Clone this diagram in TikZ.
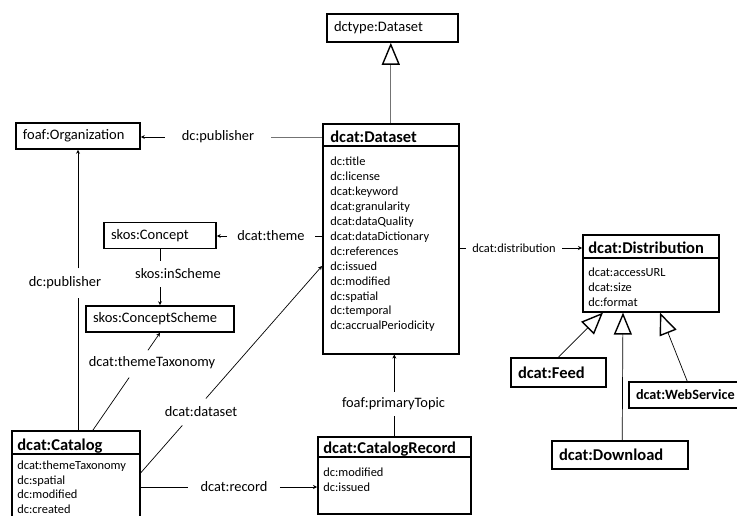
\documentclass[tikz,border=0pt]{standalone}
\usepackage{fontspec}
\setmainfont{Carlito}
\usetikzlibrary{calc,arrows.meta}

\begin{document}
\begin{tikzpicture}[x=1pt, y=-1pt, line width=0.7pt,
		box/.style={draw, line width=1.6pt, inner sep=0pt, anchor=north west},
		cls/.style={draw, line width=1.6pt, inner xsep=7pt, inner ysep=0pt, minimum height=26pt, align=left, font=\fontsize{14.5}{17}\selectfont},
		bcls/.style={cls, font=\fontsize{16.5}{19}\selectfont\bfseries},
		ttl/.style={anchor=base west, inner sep=0pt, font=\fontsize{16.5}{19}\selectfont\bfseries},
		attr/.style={anchor=north west, inner sep=0pt, align=left, font=\fontsize{12.4}{14.9}\selectfont},
		lbl/.style={inner xsep=8pt, inner ysep=8pt, font=\fontsize{14.4}{17}\selectfont},
		arr/.style={-{Stealth[length=4pt,width=4pt]}},
		gen/.style={-{Triangle[open,length=22pt,width=18pt,line width=1.4pt,color=black]}}]
		%%%%% START %%%%%
		
		\useasboundingbox (0,0) rectangle (737,516);
		
		% classes with attributes
		\node[box, minimum width=136pt, minimum height=230pt] (dataset) at (322,123) {};
		\draw[line width=1.2pt] ($(dataset.north west)+(0,23)$) -- ($(dataset.north east)+(0,23)$);
		\node[ttl] (datasetT) at (330,143) {dcat:Dataset};
		\node[attr] (datasetA) at (330,157) {dc:title\\dc:license\\dcat:keyword\\dcat:granularity\\dcat:dataQuality\\dcat:dataDictionary\\dc:references\\dc:issued\\dc:modified\\dc:spatial\\dc:temporal\\dc:accrualPeriodicity};
		
		\node[box, minimum width=128pt, minimum height=100pt] (catalog) at (11,430) {};
		\draw[line width=1.2pt] ($(catalog.north west)+(0,24)$) -- ($(catalog.north east)+(0,24)$);
		\node[ttl] (catalogT) at (17,450) {dcat:Catalog};
		\node[attr, font=\fontsize{12.4}{14.6}\selectfont] (catalogA) at (17,460.5) {dcat:themeTaxonomy\\dc:spatial\\dc:modified\\dc:created};
		
		\node[box, minimum width=153pt, minimum height=77pt] (record) at (317,436) {};
		\draw[line width=1.2pt] ($(record.north west)+(0,21)$) -- ($(record.north east)+(0,21)$);
		\node[ttl] (recordT) at (323,453) {dcat:CatalogRecord};
		\node[attr] (recordA) at (323,467.5) {dc:modified\\dc:issued};
		
		\node[box, minimum width=136pt, minimum height=77pt] (distribution) at (582,234) {};
		\draw[line width=1.2pt] ($(distribution.north west)+(0,24)$) -- ($(distribution.north east)+(0,24)$);
		\node[ttl] (distributionT) at (588,254) {dcat:Distribution};
		\node[attr] (distributionA) at (588,267.5) {dcat:accessURL\\dcat:size\\dc:format};
		
		% plain classes
		\node[cls, text width=117pt, minimum height=28pt] (dctype) at (392.5,28) {dctype:Dataset};
		\node[cls, text width=110pt] (org) at (78,136) {foaf:Organization};
		\node[cls, text width=98pt] (concept) at (160,235.5) {skos:Concept};
		\node[cls, text width=134pt] (scheme) at (160,319) {skos:ConceptScheme};
		\node[bcls, text width=81pt, minimum height=29pt] (feed) at (558.5,372.5) {dcat:Feed};
		\node[bcls, text width=122pt, minimum height=28pt] (download) at (620,455) {dcat:Download};
		\node[bcls, text width=132pt, font=\fontsize{14.2}{17}\selectfont\bfseries] (webservice) at (702,395) {dcat:WebService};
		
		% property labels
		\node[lbl, inner xsep=17pt] (pubA) at (218,137) {dc:publisher};
		\node[lbl, inner xsep=10pt] (thm) at (271,236) {dcat:theme};
		\node[lbl] (insch) at (178,274) {skos:inScheme};
		\node[lbl] (pubB) at (65,283) {dc:publisher};
		\node[lbl] (ttx) at (152,363) {dcat:themeTaxonomy};
		\node[lbl] (dsl) at (201,412) {dcat:dataset};
		\node[lbl, inner xsep=12pt] (rec) at (234,487) {dcat:record};
		\node[lbl, inner ysep=6pt] (ptl) at (393.5,404) {foaf:primaryTopic};
		\node[lbl, inner xsep=6pt, font=\fontsize{12.4}{14.9}\selectfont] (distl) at (514,248) {dcat:distribution};
		
		% properties
		\draw[black!55, line width=0.8pt] (dataset.west |- pubA) -- (pubA.east);
		\draw[arr] (pubA.west) -- (org.east |- pubA);
		\draw (dataset.west |- thm) -- (thm.east);
		\draw[arr] (thm.west) -- (concept.east |- thm);
		\draw (concept.south) -- (concept.south |- insch.north);
		\draw[arr] (concept.south |- insch.south) -- (scheme.north);
		\draw (catalog.north -| org.south) -- (pubB.south -| org.south);
		\draw[arr] (pubB.north -| org.south) -- (org.south);
		
		\coordinate (ttA) at ($(catalog.north west)+(82,0)$);
		\draw (ttA) -- ($(ttA)!0.54!(scheme.south)$);
		\draw[arr] ($(ttA)!0.82!(scheme.south)$) -- (scheme.south);
		
		\coordinate (dsA) at ($(catalog.north east)+(0,43)$);
		\coordinate (dsB) at ($(dataset.north west)+(0,143)$);
		\draw (dsA) -- ($(dsA)!0.23!(dsB)$);
		\draw[arr] ($(dsA)!0.36!(dsB)$) -- (dsB);
		
		\draw (catalog.east |- rec) -- (rec.west);
		\draw[arr] (rec.east) -- (record.west |- rec);
		\draw (record.north) -- (record.north |- ptl.south);
		\draw[arr] (record.north |- ptl.north) -- (record.north |- dataset.south);
		\draw (dataset.east |- distl) -- (distl.west);
		\draw[arr] (distl.east) -- (distribution.west |- distl);
		
		% generalisations
		\draw[gen, black!55] (dataset.north) -- (dataset.north |- dctype.south);
		\draw[gen] (feed.north) -- ($(distribution.south west)+(21,0)$);
		\draw[gen] ($(download.north west)+(71,0)$) -- ($(distribution.south west)+(41,0)$);
		\draw[gen] ($(webservice.north west)+(59,0)$) -- ($(distribution.south west)+(78,0)$);
		
		%%%%% END %%%%%
\end{tikzpicture}
\end{document}
